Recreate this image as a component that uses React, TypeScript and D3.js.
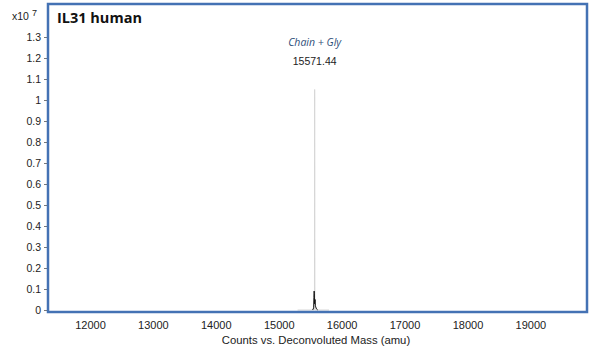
import React, { useEffect, useRef } from 'react';
import * as d3 from 'd3';

// y ticks (x10^7 counts)
const yTicks = [0, 0.1, 0.2, 0.3, 0.4, 0.5, 0.6, 0.7, 0.8, 0.9, 1, 1.1, 1.2, 1.3];
const xTicks = [12000, 13000, 14000, 15000, 16000, 17000, 18000, 19000];

// main peak (light trace)
const peakMass = [15300, 15568, 15571.44, 15575, 15800];
const peakCounts = [0, 0, 1.05, 0, 0];

// small cluster near the base of the peak
const minorMass = [15540, 15555, 15560, 15563, 15566, 15569, 15574, 15578, 15583, 15588, 15600, 15620];
const minorCounts = [0, 0.01, 0.06, 0.09, 0.08, 0.03, 0.04, 0.05, 0.02, 0.015, 0.005, 0];

function App() {
  const ref = useRef<SVGSVGElement>(null);

  useEffect(() => {
    const svg = d3.select(ref.current);
    svg.selectAll('*').remove();

    const left = 48, right = 587, top = 4, bottom = 312;
    const font = 'Liberation Sans, Arial, sans-serif';

    const x = d3.scaleLinear().domain([11333, 19900]).range([left, right]);
    const y = d3.scaleLinear().domain([0, 1]).range([310, 100]);

    svg.append('rect').attr('width', 608).attr('height', 355).attr('fill', '#fff');

    // y axis ticks + labels
    const yAxis = svg.append('g').attr('transform', `translate(${left},0)`)
      .call(d3.axisLeft(y).tickValues(yTicks).tickSize(4).tickFormat((d) => `${d}`));
    yAxis.select('.domain').remove();
    yAxis.selectAll('line').attr('stroke', '#777');
    yAxis.selectAll('text').attr('fill', '#222').style('font-family', font).style('font-size', '10.5px');

    // x axis
    const xAxis = svg.append('g').attr('transform', `translate(0,${bottom})`)
      .call(d3.axisBottom(x).tickValues(xTicks).tickSize(0).tickPadding(9).tickFormat((d) => `${d}`));
    xAxis.select('.domain').remove();
    xAxis.selectAll('text').attr('fill', '#222').style('font-family', font).style('font-size', '11px');

    // spectrum
    const line = d3.line<number>().x((d, i) => x(minorMass[i])).y((d) => y(d));
    const peakLine = d3.line<number>().x((d, i) => x(peakMass[i])).y((d) => y(d));

    svg.append('path').datum(peakCounts).attr('fill', 'none')
      .attr('stroke', '#d6d6d6').attr('stroke-width', 1).attr('d', peakLine);
    svg.append('path').datum(minorCounts).attr('fill', 'none')
      .attr('stroke', '#111').attr('stroke-width', 1).attr('d', line);

    // frame
    svg.append('rect')
      .attr('x', left).attr('y', top)
      .attr('width', right - left).attr('height', bottom - top)
      .attr('fill', 'none').attr('stroke', '#4472b4').attr('stroke-width', 2.5);

    // multiplier
    const mult = svg.append('text').attr('x', 12).attr('y', 20)
      .style('font-family', font).style('font-size', '10.5px').attr('fill', '#222');
    mult.append('tspan').text('x10');
    mult.append('tspan').attr('dx', 3).attr('dy', -4).style('font-size', '9px').text('7');

    // title
    svg.append('text').attr('x', 57).attr('y', 23)
      .style('font-family', 'Open Sans, Liberation Sans, sans-serif').style('font-size', '14.5px')
      .style('font-weight', 'bold').attr('fill', '#111').text('IL31 human');

    // peak annotation
    svg.append('text').attr('x', x(15571.44)).attr('y', 46).attr('text-anchor', 'middle')
      .style('font-family', 'Open Sans, Liberation Sans, sans-serif').style('font-size', '10.5px')
      .style('font-style', 'italic').attr('fill', '#2f4f7a').text('Chain + Gly');
    svg.append('text').attr('x', x(15571.44)).attr('y', 65).attr('text-anchor', 'middle')
      .style('font-family', font).style('font-size', '10.5px')
      .attr('fill', '#222').text('15571.44');

    // x axis title
    svg.append('text').attr('x', 316).attr('y', 344).attr('text-anchor', 'middle')
      .style('font-family', font).style('font-size', '11.3px')
      .attr('fill', '#222').text('Counts vs. Deconvoluted Mass (amu)');
  }, []);

  return (
    <div style={{ position: 'fixed', left: 0, top: 0 }}>
      <svg ref={ref} width={608} height={355}></svg>
    </div>
  );
}

export default App;
